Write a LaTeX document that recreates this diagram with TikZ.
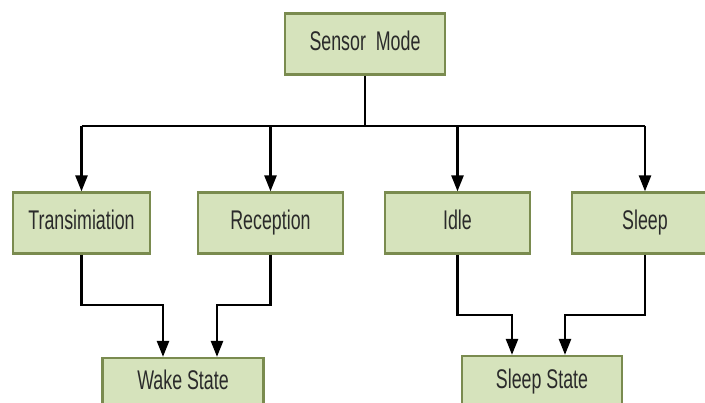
\documentclass[tikz,border=0pt]{standalone}
\usepackage{fontspec}
\setmainfont{Liberation Sans}
\newfontfamily\condfont[FakeStretch=0.66]{Liberation Sans}
\usetikzlibrary{arrows.meta}
\definecolor{boxfill}{HTML}{D6E3BC}
\definecolor{boxdraw}{HTML}{7A8B4F}
\definecolor{txt}{HTML}{2A2A2A}
\tikzset{
  lbl/.style={text=txt, font=\condfont\fontsize{27}{31}\selectfont,
    text height=19pt, text depth=6pt, inner sep=0pt},
  stbox/.style={lbl, draw=boxdraw, line width=2.2pt, fill=boxfill, rectangle,
    minimum height=61pt},
  conn/.style={line width=2.4pt, black},
  arr/.style={conn, -{Triangle[length=16pt,width=12pt]}},
}
\begin{document}
\begin{tikzpicture}[x=1pt,y=-1pt]
\useasboundingbox (0,0) rectangle (705,403);
\clip (0,0) rectangle (705,403);
\fill[white] (0,0) rectangle (705,403);
\node[stbox, minimum width=160pt] (sm) at (365,44) {Sensor\ \ Mode};
\node[stbox, minimum width=137pt] (tr) at (81.5,223) {Transimiation};
\node[stbox, minimum width=145pt] (re) at (270.5,223) {Reception};
\node[stbox, minimum width=145pt] (id) at (457.5,223) {Idle};
\node[stbox, minimum width=146pt] (sl) at (645,223) {Sleep};
\node[stbox, minimum width=161pt, minimum height=62pt] (ws) at (183,389) {};
\node[lbl] (wst) at (183,383) {Wake State};
\node[stbox, minimum width=160pt, minimum height=62pt] (ss) at (542,387) {};
\node[lbl] (sst) at (542,382) {Sleep State};
\coordinate (bus) at (365,126);
\draw[conn] (sm.south) -- (bus);
\draw[conn] (tr.north |- bus) -- (sl.north |- bus);
\draw[arr] (tr.north |- bus) -- (tr.north);
\draw[arr] (re.north |- bus) -- (re.north);
\draw[arr] (id.north |- bus) -- (id.north);
\draw[arr] (sl.north |- bus) -- (sl.north);
\coordinate (wl) at (163,0);
\coordinate (wr) at (217,0);
\coordinate (sL) at (512,0);
\coordinate (sR) at (565,0);
\draw[arr] (tr.south) |- (wl |- 0,305) -- (wl |- ws.north);
\draw[arr] (re.south) |- (wr |- 0,305) -- (wr |- ws.north);
\draw[arr] (id.south) |- (sL |- 0,315) -- (sL |- ss.north);
\draw[arr] (sl.south) |- (sR |- 0,315) -- (sR |- ss.north);
\end{tikzpicture}
\end{document}
